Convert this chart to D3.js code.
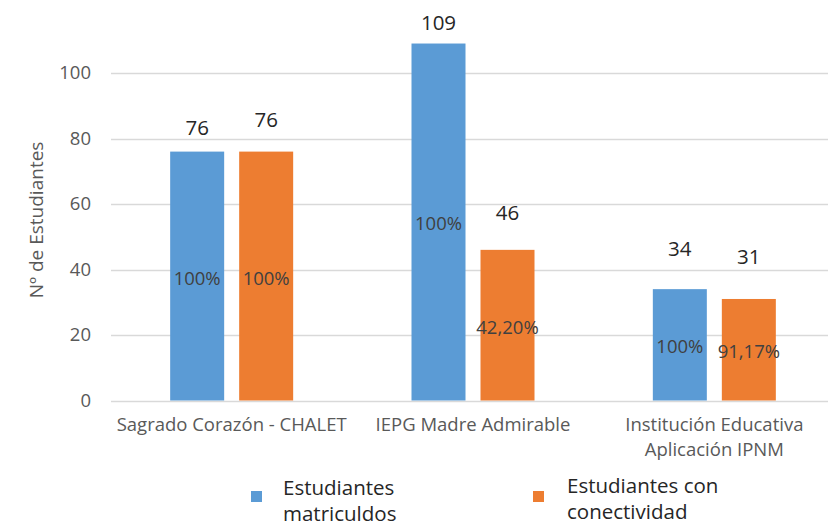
<!DOCTYPE html>
<html><head><meta charset="utf-8">
<script src="https://cdn.jsdelivr.net/npm/d3@7"></script>
<style>body{margin:0;background:#fff}svg{display:block}text{font-family:"Open Sans",sans-serif}</style>
</head><body>
<script>
const categories = [["Sagrado Corazón - CHALET"], ["IEPG Madre Admirable"], ["Institución Educativa", "Aplicación IPNM"]];
const seriesNames = [["Estudiantes", "matriculdos"], ["Estudiantes con", "conectividad"]];
const matriculados = [76, 109, 34];
const conectividad = [76, 46, 31];
const pctMatriculados = ["100%", "100%", "100%"];
const pctConectividad = ["100%", "42,20%", "91,17%"];
const yTicks = [0, 20, 40, 60, 80, 100];
const colors = ["#5B9BD5", "#ED7D31"];
// label nudges (px above bar top) as in the reference
const valueLabelGap = [[24, 32], [21, 37], [40, 42]];

const W = 828, H = 527;
const svg = d3.select("body").append("svg").attr("width", W).attr("height", H);

const x0 = d3.scaleBand().domain(d3.range(3)).range([111, 835]).paddingInner(0).paddingOuter(0);
const y = d3.scaleLinear().domain([0, 100]).range([400.5, 73]);
const barW = 54, gap = 15;

// gridlines
svg.append("g").selectAll("line").data(yTicks).join("line")
  .attr("x1", 111).attr("x2", 828)
  .attr("y1", d => Math.round(y(d)) + 0.5).attr("y2", d => Math.round(y(d)) + 0.5)
  .attr("stroke", "#d9d9d9").attr("stroke-width", 1.3);

// y tick labels
svg.append("g").selectAll("text").data(yTicks).join("text")
  .attr("x", 91).attr("y", d => y(d)).attr("dy", "0.35em")
  .attr("text-anchor", "end").attr("font-size", 18.5).attr("fill", "#595959")
  .text(d => d);

// y title
svg.append("text").attr("transform", "translate(43,220) rotate(-90)")
  .attr("text-anchor", "middle").attr("font-size", 19).attr("fill", "#595959")
  .text("Nº de Estudiantes");

const series = [matriculados, conectividad];
const pcts = [pctMatriculados, pctConectividad];
const bx = (i, s) => x0(i) + x0.bandwidth() / 2 + (s === 0 ? -(gap / 2 + barW) : gap / 2);

series.forEach((vals, s) => {
  const g = svg.append("g");
  g.selectAll("rect").data(vals).join("rect")
    .attr("x", (d, i) => bx(i, s)).attr("width", barW)
    .attr("y", d => y(d)).attr("height", d => y(0) - y(d))
    .attr("fill", colors[s]);
  g.selectAll("text.pct").data(vals).join("text").attr("class", "pct")
    .attr("x", (d, i) => bx(i, s) + barW / 2)
    .attr("y", d => (y(d) + y(0)) / 2 + 2).attr("dy", "0.35em")
    .attr("text-anchor", "middle").attr("font-size", 18.5).attr("fill", "#404040")
    .text((d, i) => pcts[s][i]);
  g.selectAll("text.val").data(vals).join("text").attr("class", "val")
    .attr("x", (d, i) => bx(i, s) + barW / 2)
    .attr("y", (d, i) => y(d) - valueLabelGap[i][s]).attr("dy", "0.35em")
    .attr("text-anchor", "middle").attr("font-size", 20.5).attr("fill", "#262626")
    .text(d => d);
});

// category labels
const cg = svg.append("g");
categories.forEach((lines, i) => {
  const t = cg.append("text").attr("y", 431).attr("text-anchor", "middle")
    .attr("font-size", 18.5).attr("fill", "#595959");
  lines.forEach((l, k) => t.append("tspan").attr("x", x0(i) + x0.bandwidth() / 2).attr("dy", k === 0 ? 0 : 25).text(l));
});

// legend
const legendPos = [{sx: 251, sy: 491, tx: 283, ty: 495}, {sx: 533, sy: 491, tx: 567, ty: 493}];
seriesNames.forEach((lines, s) => {
  const p = legendPos[s];
  svg.append("rect").attr("x", p.sx).attr("y", p.sy).attr("width", 11).attr("height", 11).attr("fill", colors[s]);
  const t = svg.append("text").attr("y", p.ty).attr("font-size", 20.5).attr("fill", "#262626");
  lines.forEach((l, k) => t.append("tspan").attr("x", p.tx).attr("dy", k === 0 ? 0 : 26).text(l));
});
</script>
</body></html>
